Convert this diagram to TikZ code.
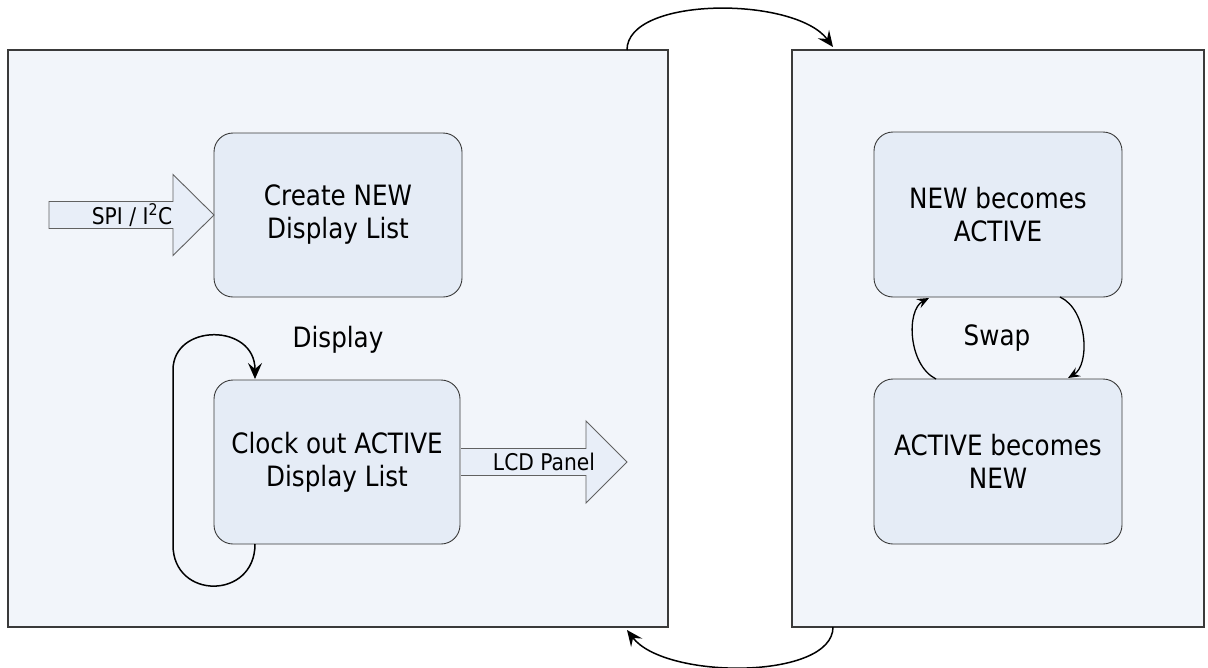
\documentclass[tikz,border=0pt]{standalone}
\usepackage{fontspec}
\setmainfont{DejaVu Sans}[FakeStretch=0.88]
\usetikzlibrary{arrows.meta,calc}
\definecolor{panelfill}{HTML}{F2F5FA}
\definecolor{boxfill}{HTML}{E5ECF6}
\definecolor{arrowfill}{HTML}{E8EEF8}
\definecolor{edge}{HTML}{3A3A3A}
\tikzset{
  panel/.style={draw=edge, line width=1.3pt, fill=panelfill, inner sep=0pt, outer sep=0pt},
  stepbox/.style={draw=edge, line width=0.9pt, fill=boxfill, rounded corners=19pt,
    inner sep=0pt, outer sep=0pt, align=center, minimum width=248pt, minimum height=164pt,
    font=\fontsize{28}{33}\selectfont},
  fatarrow/.style={draw=edge!80, line width=0.9pt, fill=arrowfill},
  smalllabel/.style={font=\fontsize{23}{26}\selectfont, inner sep=0pt},
  biglabel/.style={font=\fontsize{28}{33}\selectfont, inner sep=0pt},
  flow/.style={line width=1.5pt, -{Stealth[length=16pt,width=14pt,inset=6pt]}},
  swapflow/.style={line width=1.3pt, -{Stealth[length=12pt,width=10pt,inset=4.5pt]}}
}
\begin{document}
\begin{tikzpicture}[x=1pt,y=-1pt]
\useasboundingbox (0,0) rectangle (1208,667);
% panels
\node[panel, minimum width=660pt, minimum height=577pt] (lp) at (338,338.5) {};
\node[panel, minimum width=412pt, minimum height=577pt] (rp) at (998,338.5) {};
% boxes
\node[stepbox] (create) at (338,215) {Create NEW\\Display List};
\node[stepbox, minimum width=246pt] (clock) at (337,462) {Clock out ACTIVE\\Display List};
\node[stepbox, minimum height=165pt] (nba) at (998,214.5) {NEW becomes\\ACTIVE};
\node[stepbox, minimum height=165pt] (abn) at (998,461.5) {ACTIVE becomes\\NEW};
% SPI arrow
\coordinate (spitip) at (create.west);
\draw[fatarrow] ($(spitip)+(-165,-13.5)$) -- ($(spitip)+(-41,-13.5)$) -- ($(spitip)+(-41,-40.5)$)
  -- (spitip) -- ($(spitip)+(-41,40.5)$) -- ($(spitip)+(-41,13.5)$) -- ($(spitip)+(-165,13.5)$) -- cycle;
\node[smalllabel] (spi) at ($(spitip)+(-82,0)$) {SPI / I\textsuperscript{2}C};
% LCD arrow
\coordinate (lcdbase) at (clock.east);
\draw[fatarrow] ($(lcdbase)+(1,-13.5)$) -- ($(lcdbase)+(126,-13.5)$) -- ($(lcdbase)+(126,-41)$)
  -- ($(lcdbase)+(167,0)$) -- ($(lcdbase)+(126,41)$) -- ($(lcdbase)+(126,13.5)$) -- ($(lcdbase)+(1,13.5)$);
\node[smalllabel] (lcd) at ($(lcdbase)+(84,0)$) {LCD Panel};
% display loop
\node[biglabel] (disp) at (338,340) {Display};
\draw[flow] ($(clock.south west)+(41,0)$) .. controls ($(clock.south west)+(41,56)$) and ($(clock.south west)+(-41,56)$) .. ($(clock.south west)+(-41,1)$)
  -- ($(clock.north west)+(-41,-10)$) .. controls ($(clock.north west)+(-41,-57)$) and ($(clock.north west)+(41,-57)$) .. ($(clock.north west)+(41,-1)$);
% swap
\node[biglabel] (swap) at (997,338) {Swap};
\draw[swapflow] ($(abn.north)+(-62,0)$) .. controls ($(abn.north)+(-90,-14)$) and ($(abn.north)+(-92,-69)$) .. ($(nba.south)+(-69,1)$);
\draw[swapflow] ($(nba.south)+(62,0)$) .. controls ($(nba.south)+(90,13)$) and ($(nba.south)+(92,68)$) .. ($(abn.north)+(70,-1)$);
% panel-to-panel arcs
\draw[flow] ($(lp.north east)+(-41,0)$) .. controls ($(lp.north east)+(-41,-54)$) and ($(rp.north west)+(3,-54)$) .. ($(rp.north west)+(41,-3)$);
\draw[flow] ($(rp.south west)+(41,0)$) .. controls ($(rp.south west)+(41,53)$) and ($(lp.south east)+(-3,53)$) .. ($(lp.south east)+(-41,3)$);
\end{tikzpicture}
\end{document}
